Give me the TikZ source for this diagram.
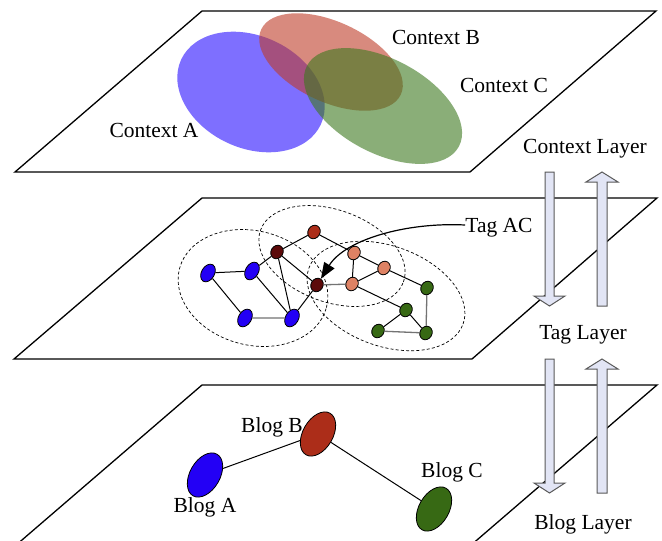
\documentclass[tikz,border=0pt]{standalone}
\usepackage{fontspec}
\setmainfont{Liberation Serif}
\usepackage{xcolor}
\usetikzlibrary{shapes.geometric, arrows.meta, positioning}

\definecolor{ctxblue}{RGB}{40,15,255}
\definecolor{ctxred}{RGB}{190,60,40}
\definecolor{ctxgreen}{RGB}{60,120,30}
\definecolor{dotblue}{RGB}{35,0,245}
\definecolor{dotmaroon}{RGB}{92,10,10}
\definecolor{dotrust}{RGB}{172,45,25}
\definecolor{dotsalmon}{RGB}{222,130,100}
\definecolor{dotgreen}{RGB}{55,105,20}
\definecolor{arrowfill}{RGB}{226,229,245}

\begin{document}
\begin{tikzpicture}[x=1pt, y=-1pt,
    plane/.style={draw, fill=white, line width=1.3pt},
    ctxzone/.style={ellipse, fill opacity=0.6, inner sep=0pt},
    cluster/.style={ellipse, draw, dash pattern=on 3pt off 2.2pt, line width=0.7pt, inner sep=0pt},
    tagdot/.style={ellipse, draw, line width=0.8pt, inner sep=0pt, minimum width=14pt, minimum height=12pt, rotate=60},
    bigdot/.style={tagdot, minimum width=19pt, minimum height=13pt, fill=dotblue},
    blognode/.style={ellipse, draw, line width=0.8pt, inner sep=0pt, minimum width=48pt, minimum height=30pt, rotate=60},
    tagedge/.style={line width=1pt},
    softedge/.style={line width=1.3pt, black!55},
    txt/.style={font=\fontsize{21.5}{24}\selectfont, inner sep=0pt, text height=14pt, text depth=0pt},
    blockarrow/.style={draw=black!65, fill=arrowfill, line width=1pt}]

    \useasboundingbox (0,0) rectangle (662,541);
    \clip (0,0) rectangle (662,541);

    % the three layers
    \draw [plane] (202,11) -- (656,11) -- (470,172) -- (15,172) -- cycle;
    \draw [plane] (202,198) -- (657,198) -- (472,359) -- (14,359) -- cycle;
    \draw [plane] (202,385) -- (657,385) -- (470,546) -- (15,546) -- cycle;

    % context layer
    \node [ctxzone, fill=ctxblue, minimum width=154pt, minimum height=112pt, rotate=-25] (ctxA) at (251,92) {};
    \node [ctxzone, fill=ctxred, minimum width=154pt, minimum height=80pt, rotate=-25] (ctxB) at (331,62) {};
    \node [ctxzone, fill=ctxgreen, minimum width=172pt, minimum height=94pt, rotate=-28] (ctxC) at (383,106) {};
    \node [txt] (ctxAlbl) at (154,130) {Context A};
    \node [txt] (ctxBlbl) at (436,37) {Context B};
    \node [txt] (ctxClbl) at (504,85) {Context C};
    \node [txt] (ctxlayer) at (585,146) {Context Layer};

    % tag layer
    \node [cluster, minimum width=152pt, minimum height=114pt, rotate=-15] (grpA) at (253,288) {};
    \node [cluster, minimum width=152pt, minimum height=92pt, rotate=-20] (grpB) at (332,256) {};
    \node [cluster, minimum width=164pt, minimum height=100pt, rotate=-20] (grpC) at (386,296) {};

    \node [bigdot] (b1) at (208,273) {};
    \node [bigdot] (b2) at (252,271) {};
    \node [bigdot] (b3) at (245,318) {};
    \node [bigdot] (b4) at (292,318) {};
    \node [tagdot, fill=dotmaroon] (m1) at (277,252) {};
    \node [tagdot, fill=dotmaroon] (m2) at (317,285) {};
    \node [tagdot, fill=dotrust] (r1) at (314,232) {};
    \node [tagdot, fill=dotsalmon] (s1) at (354,253) {};
    \node [tagdot, fill=dotsalmon] (s2) at (384,268) {};
    \node [tagdot, fill=dotsalmon] (s3) at (352,284) {};
    \node [tagdot, fill=dotgreen] (g1) at (427,288) {};
    \node [tagdot, fill=dotgreen] (g2) at (406,310) {};
    \node [tagdot, fill=dotgreen] (g3) at (378,331) {};
    \node [tagdot, fill=dotgreen] (g4) at (426,333) {};

    \draw [tagedge] (b1) -- (b2);
    \draw [tagedge] (b1) -- (b3);
    \draw [softedge] (b3) -- (b4);
    \draw [tagedge] (b2) -- (b4);
    \draw [tagedge] (b2) -- (m1);
    \draw [tagedge] (m1) -- (b4);
    \draw [tagedge] (m1) -- (m2);
    \draw [tagedge] (m1) -- (r1);
    \draw [tagedge] (r1) -- (s1);
    \draw [tagedge] (m2) -- (b4);
    \draw [softedge] (m2) -- (s3);
    \draw [tagedge] (s1) -- (s3);
    \draw [tagedge] (s1) -- (s2);
    \draw [tagedge] (s2) -- (s3);
    \draw [tagedge] (s3) -- (g2);
    \draw [tagedge] (s2) -- (g1);
    \draw [softedge] (g1) -- (g4);
    \draw [tagedge] (g2) -- (g3);
    \draw [tagedge] (g2) -- (g4);
    \draw [softedge] (g3) -- (g4);

    \node [txt] (tagAC) at (499,225) {Tag AC};
    \draw [-{Triangle[length=16pt,width=12pt]}, line width=1.2pt] (tagAC.west) .. controls (405,222) and (345,240) .. (m2);
    \node [txt] (taglayer) at (583,332) {Tag Layer};

    % blog layer
    \node [blognode, fill=dotblue] (blogA) at (205,475) {};
    \node [blognode, fill=dotrust] (blogB) at (318,434) {};
    \node [blognode, fill=dotgreen] (blogC) at (434,509) {};
    \draw [tagedge] (blogA) -- (blogB);
    \draw [tagedge] (blogB) -- (blogC);
    \node [txt] (blogAlbl) at (205,505) {Blog A};
    \node [txt] (blogBlbl) at (272,425) {Blog B};
    \node [txt] (blogClbl) at (452,470) {Blog C};
    \node [txt] (bloglayer) at (583,522) {Blog Layer};

    % arrows between the layers
    \foreach \dy in {0,187} {
        \draw [blockarrow] (545,{172+\dy}) -- (554,{172+\dy}) -- (554,{296+\dy}) -- (565,{296+\dy})
            -- (549.5,{306+\dy}) -- (534,{296+\dy}) -- (545,{296+\dy}) -- cycle;
        \draw [blockarrow] (597,{306+\dy}) -- (607,{306+\dy}) -- (607,{182+\dy}) -- (618,{182+\dy})
            -- (602,{172+\dy}) -- (586,{182+\dy}) -- (597,{182+\dy}) -- cycle;
    }
\end{tikzpicture}
\end{document}
